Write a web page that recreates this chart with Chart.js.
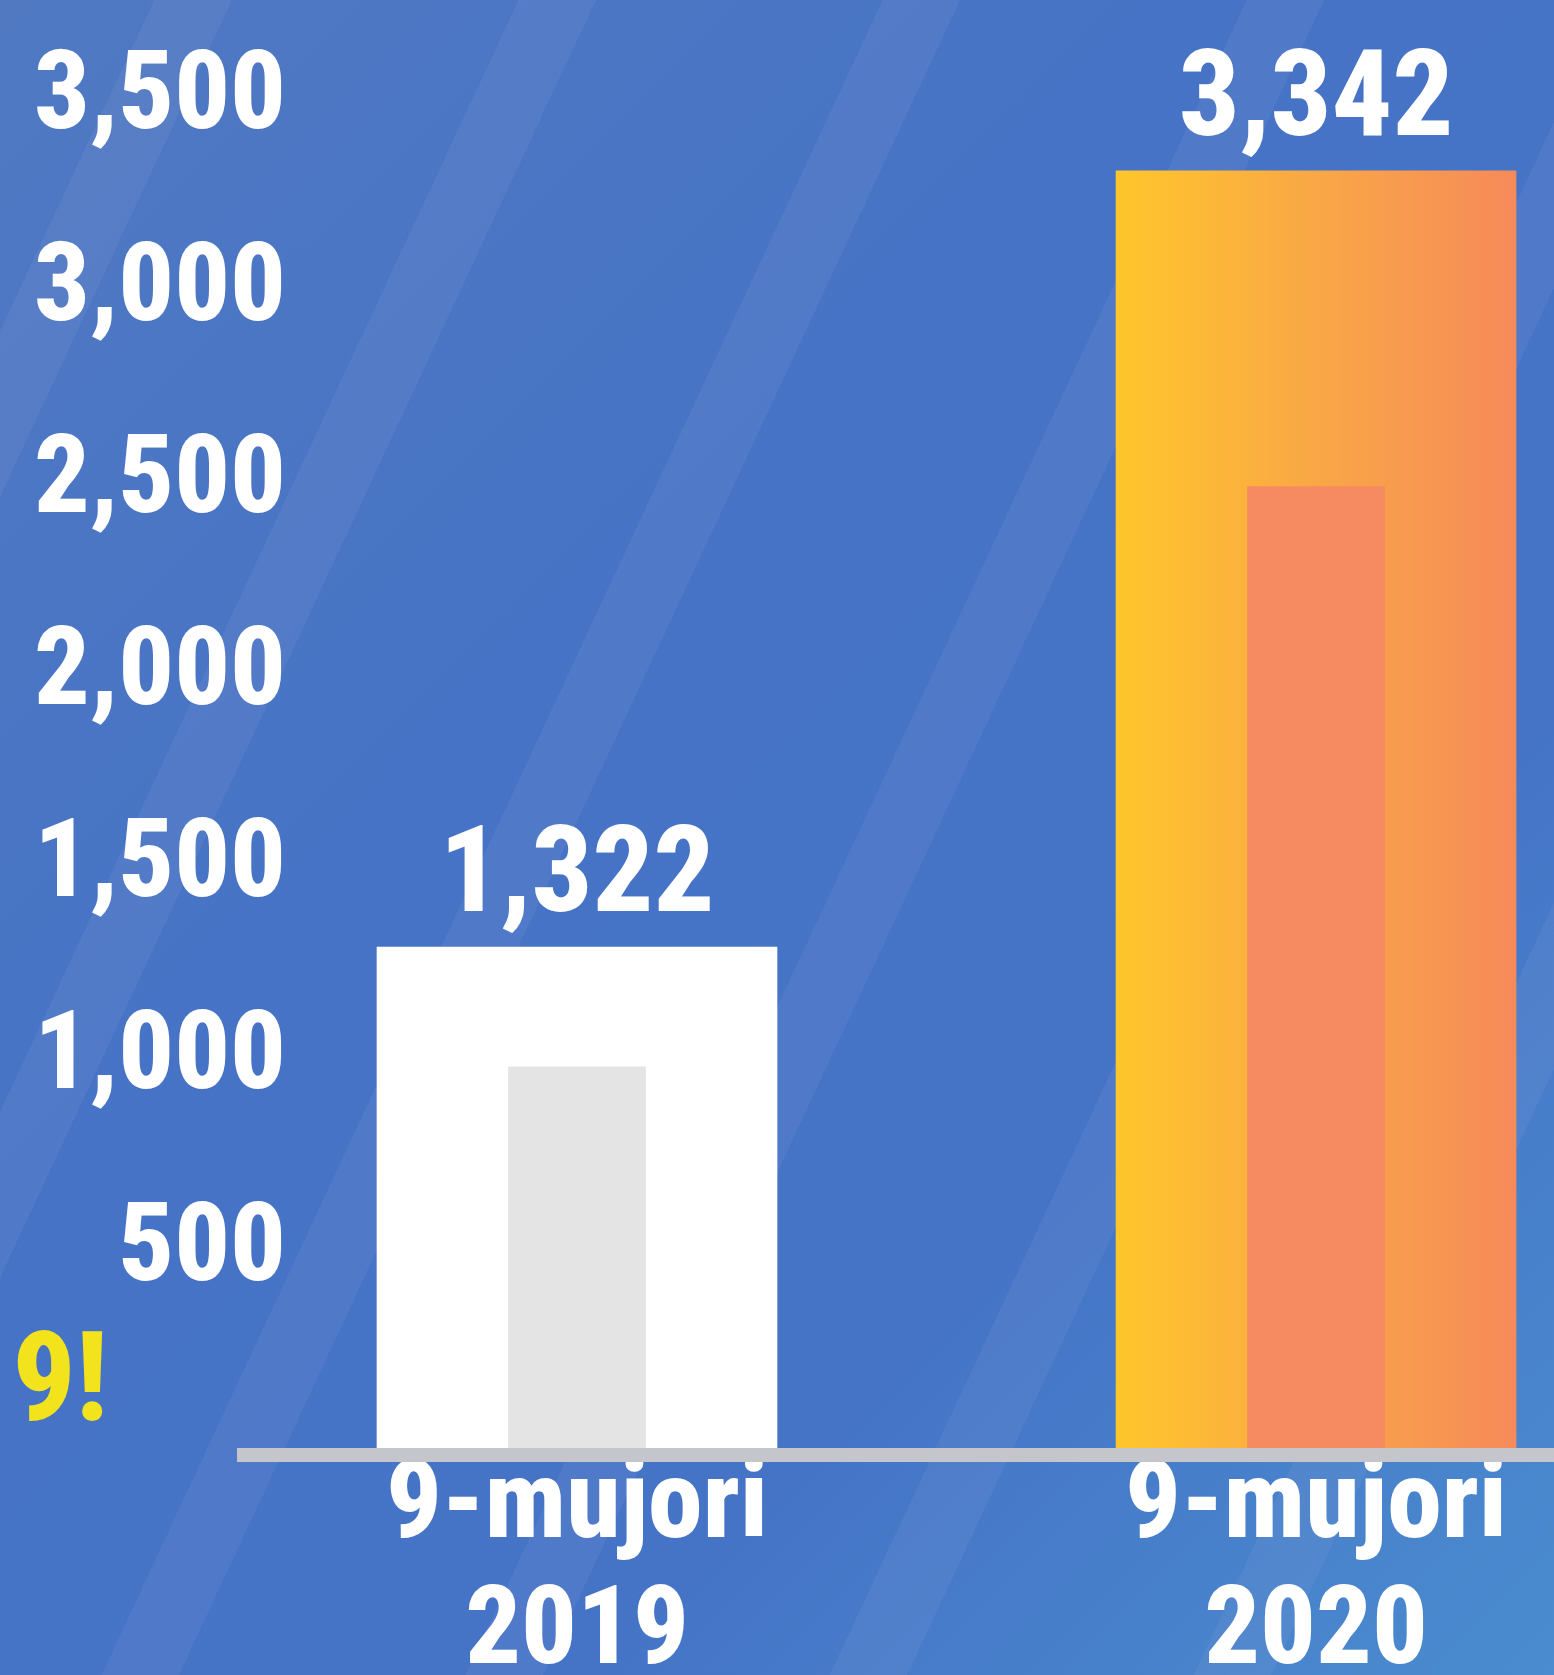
<!DOCTYPE html>
<html>
<head>
<meta charset="utf-8">
<title>9-mujori 2019 / 2020</title>
<script src="https://cdn.jsdelivr.net/npm/chart.js@4/dist/chart.umd.min.js"></script>
<style>
  html, body { margin: 0; padding: 0; }
  body {
    width: 1554px; height: 1675px; overflow: hidden; position: relative;
    background:
      repeating-linear-gradient(115deg, rgba(255,255,255,0) 0 140px, rgba(150,165,215,0.13) 140px 210px, rgba(255,255,255,0) 210px 330px),
      linear-gradient(135deg, #5079c2 0%, #4673c6 40%, #4574c7 70%, #4a8ccf 100%);
  }
  #chart { position: absolute; left: 0; top: 0; }
  .side {
    position: absolute; left: 0; top: 1316px; width: 108px; text-align: right;
    font-family: 'Noto Sans Condensed', 'Liberation Sans Narrow', 'Roboto Condensed', 'Noto Sans', sans-serif;
    font-weight: 800; font-size: 124px; font-stretch: condensed;
    line-height: 1; color: #f2e31c; white-space: nowrap;
  }
</style>
</head>
<body>
<div class="side">9!</div>
<canvas id="chart" width="1554" height="1675"></canvas>
<script>
var categories = [['9-mujori', '2019'], ['9-mujori', '2020']];
var totalValues = [1322, 3342];
var innerValues = [1010, 2520];
var yTicks = [500, 1000, 1500, 2000, 2500, 3000, 3500];

var FONT = "'Noto Sans Condensed', 'Liberation Sans Narrow', 'Roboto Condensed', 'Noto Sans', sans-serif";
var WEIGHT = '800 condensed';

function fmt(v) {
    return v.toLocaleString('en-US');
}

// widest y label, so the mirrored labels can be right-aligned at x=286
var m = document.createElement('canvas').getContext('2d');
m.font = WEIGHT + ' 110px ' + FONT;
var widest = Math.max.apply(null, yTicks.map(function(v) { return m.measureText(fmt(v)).width; }));

// 2020 bar has the yellow -> orange fade
function outerColor(c) {
    if (c.dataIndex === 0) return '#ffffff';
    var chart = c.chart;
    var x = chart.scales && chart.scales.x;
    if (!chart.chartArea || !x) return '#fbab45';
    var cx = x.getPixelForValue(c.dataIndex);
    var g = chart.ctx.createLinearGradient(cx - 200, 0, cx + 200, 0);
    g.addColorStop(0, '#ffc62b');
    g.addColorStop(0.5, '#f9a746');
    g.addColorStop(1, '#f68a5a');
    return g;
}

var valueLabels = {
    id: 'valueLabels',
    afterDatasetsDraw: function(chart) {
        var ctx = chart.ctx;
        var meta = chart.getDatasetMeta(1);
        ctx.save();
        ctx.font = WEIGHT + ' 120px ' + FONT;
        ctx.fillStyle = '#ffffff';
        ctx.textAlign = 'center';
        ctx.textBaseline = 'alphabetic';
        meta.data.forEach(function(bar, i) {
            ctx.fillText(fmt(totalValues[i]), bar.x, bar.y - 36);
        });
        ctx.restore();
    }
};

var ctx = document.getElementById('chart').getContext('2d');
var chart = new Chart(ctx, {
    type: 'bar',
    data: {
        datasets: [{
            label: 'inner',
            data: innerValues.map(function(v, i) { return {x: i, y: v}; }),
            backgroundColor: ['#e4e4e4', '#f68a60'],
            barThickness: 137,
            grouped: false,
            order: 0
        }, {
            label: 'total',
            data: totalValues.map(function(v, i) { return {x: i, y: v}; }),
            backgroundColor: outerColor,
            barThickness: 400,
            grouped: false,
            order: 1
        }]
    },
    plugins: [valueLabels],
    options: {
        responsive: false,
        animation: false,
        devicePixelRatio: 1,
        layout: { padding: { top: 110, right: 0, left: 0, bottom: 0 } },
        plugins: { legend: { display: false }, tooltip: { enabled: false } },
        scales: {
            x: {
                type: 'linear',
                offset: false,
                min: -0.4506,
                max: 1.322,
                afterBuildTicks: function(axis) {
                    axis.ticks = categories.map(function(c, i) { return {value: i}; });
                },
                afterFit: function(s) { s.height = 220; },
                grid: { display: false, drawTicks: false },
                border: { display: true, color: '#c4c6cc', width: 14, z: 1 },
                ticks: {
                    autoSkip: false,
                    maxRotation: 0,
                    padding: -8,
                    color: '#ffffff',
                    font: { family: FONT, weight: WEIGHT, size: 110, lineHeight: 1.14 },
                    callback: function(v) { return categories[v]; }
                }
            },
            y: {
                min: 0,
                max: 3500,
                afterBuildTicks: function(axis) {
                    axis.ticks = yTicks.map(function(v) { return {value: v}; });
                },
                afterFit: function(s) { s.width = 244; },
                grid: { display: false, drawTicks: false },
                border: { display: false },
                ticks: {
                    mirror: true,
                    crossAlign: 'far',
                    padding: 42 - widest,
                    labelOffset: -10,
                    color: '#ffffff',
                    font: { family: FONT, weight: WEIGHT, size: 110 },
                    callback: function(v) { return fmt(v); }
                }
            }
        }
    }
});
</script>
</body>
</html>
